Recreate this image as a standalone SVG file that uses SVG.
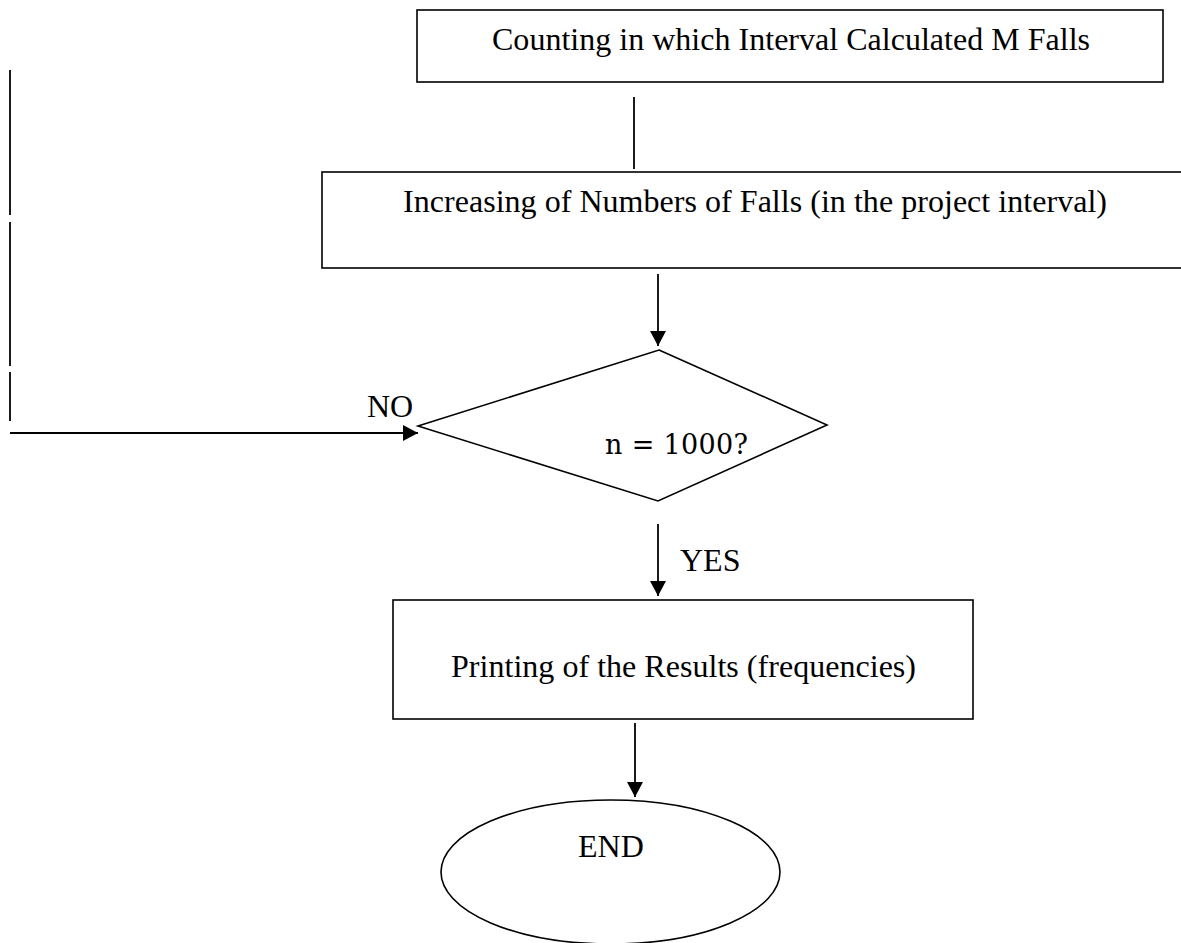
<svg xmlns="http://www.w3.org/2000/svg" width="1181" height="943" viewBox="0 0 1181 943">
<style>
.box{fill:#fff;stroke:#000;stroke-width:1.6}
.ln{fill:none;stroke:#000;stroke-width:1.8}
.t{font-family:"Liberation Serif","Times New Roman",serif;font-size:32px;fill:#000}
.m{font-family:"DejaVu Serif",serif;font-size:27px;fill:#000}
</style>
<defs>
<marker id="ah" markerWidth="16" markerHeight="16" refX="15" refY="8" orient="auto" markerUnits="userSpaceOnUse">
<path d="M0,0 L15,8 L0,16 Z" fill="#000"/>
</marker>
</defs>
<rect width="1181" height="943" fill="#fff"/>
<g id="connectors">
<line class="ln" x1="634" y1="97" x2="634" y2="169"/>
<line class="ln" x1="658" y1="274" x2="658" y2="346" marker-end="url(#ah)"/>
<line class="ln" x1="10" y1="70" x2="10" y2="215"/>
<line class="ln" x1="10" y1="222" x2="10" y2="366"/>
<line class="ln" x1="10" y1="372" x2="10" y2="421"/>
<line class="ln" x1="10" y1="433" x2="418" y2="433" marker-end="url(#ah)"/>
<line class="ln" x1="658" y1="524" x2="658" y2="596" marker-end="url(#ah)"/>
<line class="ln" x1="635" y1="723" x2="635" y2="797" marker-end="url(#ah)"/>
<text class="t" x="367" y="417">NO</text>
<text class="t" x="680" y="571">YES</text>
</g>
<g id="node-counting">
<rect class="box" x="417" y="10" width="746" height="72"/>
<text class="t" x="492" y="50" textLength="598">Counting in which Interval Calculated M Falls</text>
</g>
<g id="node-increasing">
<rect class="box" x="322" y="172" width="870" height="96"/>
<text class="t" x="403" y="212" textLength="704">Increasing of Numbers of Falls (in the project interval)</text>
</g>
<g id="node-decision">
<polygon class="box" points="659,350 827,425 658,501 418,426"/>
<text class="m" x="605" y="454" textLength="143">n = 1000?</text>
</g>
<g id="node-printing">
<rect class="box" x="393" y="600" width="580" height="119"/>
<text class="t" x="451" y="677" textLength="465">Printing of the Results (frequencies)</text>
</g>
<g id="node-end">
<ellipse class="box" cx="610.5" cy="872" rx="169.5" ry="72"/>
<text class="t" x="578" y="857">END</text>
</g>
</svg>
